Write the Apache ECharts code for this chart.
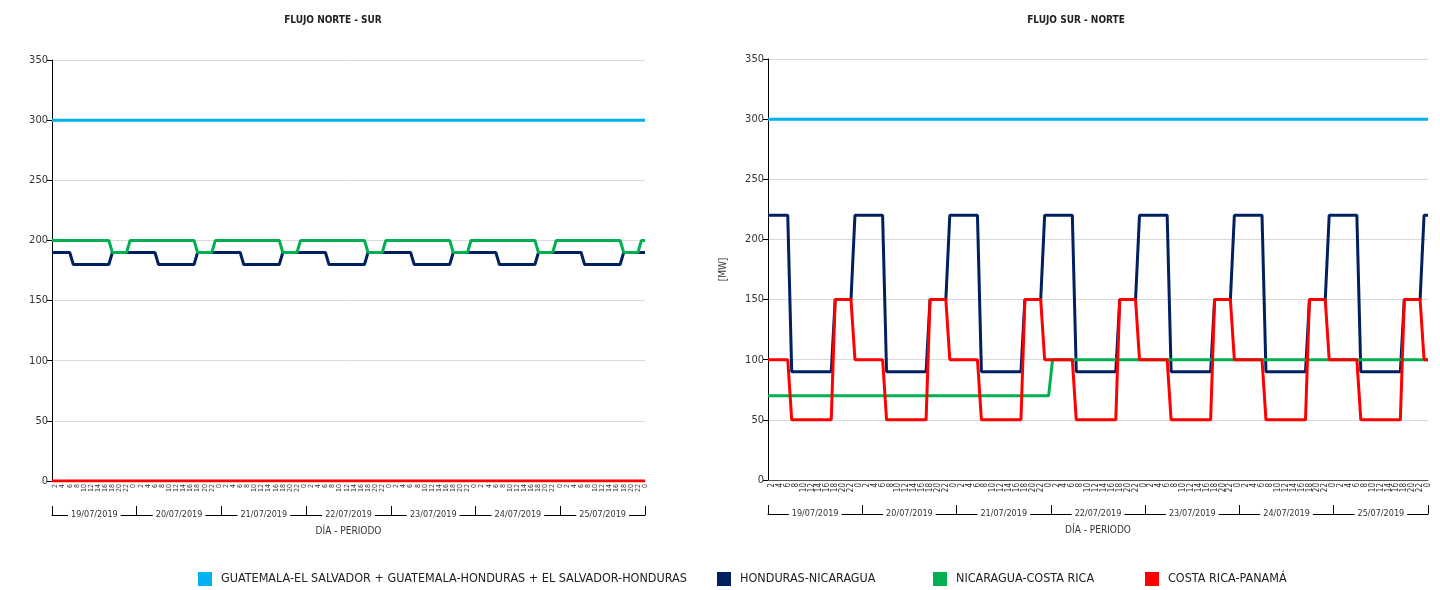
<!DOCTYPE html>
<html>
<head>
<meta charset="utf-8">
<script src="https://cdn.jsdelivr.net/npm/echarts@6/dist/echarts.min.js"></script>
<style>
html,body{margin:0;padding:0;background:#fff;}
#c{width:1440px;height:590px;}
</style>
</head>
<body>
<div id="c"></div>
<script>
// ---------- DATA ----------
const DAYS = ['19/07/2019','20/07/2019','21/07/2019','22/07/2019','23/07/2019','24/07/2019','25/07/2019'];
const HOURS = ['1','2','3','4','5','6','7','8','9','10','11','12','13','14','15','16','17','18','19','20','21','22','23','0'];
const SERIES_NAMES = [
  'GUATEMALA-EL SALVADOR + GUATEMALA-HONDURAS + EL SALVADOR-HONDURAS',
  'HONDURAS-NICARAGUA',
  'NICARAGUA-COSTA RICA',
  'COSTA RICA-PANAMÁ'
];
const Y_TICKS = [0,50,100,150,200,250,300,350];

// FLUJO NORTE - SUR
const NS_GUA = [
300,300,300,300,300,300,300,300,300,300,300,300,300,300,300,300,300,300,300,300,300,300,300,300,
300,300,300,300,300,300,300,300,300,300,300,300,300,300,300,300,300,300,300,300,300,300,300,300,
300,300,300,300,300,300,300,300,300,300,300,300,300,300,300,300,300,300,300,300,300,300,300,300,
300,300,300,300,300,300,300,300,300,300,300,300,300,300,300,300,300,300,300,300,300,300,300,300,
300,300,300,300,300,300,300,300,300,300,300,300,300,300,300,300,300,300,300,300,300,300,300,300,
300,300,300,300,300,300,300,300,300,300,300,300,300,300,300,300,300,300,300,300,300,300,300,300,
300,300,300,300,300,300,300,300,300,300,300,300,300,300,300,300,300,300,300,300,300,300,300,300];
const NS_HN = [
190,190,190,190,190,190,180,180,180,180,180,180,180,180,180,180,180,190,190,190,190,190,190,190,
190,190,190,190,190,190,180,180,180,180,180,180,180,180,180,180,180,190,190,190,190,190,190,190,
190,190,190,190,190,190,180,180,180,180,180,180,180,180,180,180,180,190,190,190,190,190,190,190,
190,190,190,190,190,190,180,180,180,180,180,180,180,180,180,180,180,190,190,190,190,190,190,190,
190,190,190,190,190,190,180,180,180,180,180,180,180,180,180,180,180,190,190,190,190,190,190,190,
190,190,190,190,190,190,180,180,180,180,180,180,180,180,180,180,180,190,190,190,190,190,190,190,
190,190,190,190,190,190,180,180,180,180,180,180,180,180,180,180,180,190,190,190,190,190,190,190];
const NS_NC = [
200,200,200,200,200,200,200,200,200,200,200,200,200,200,200,200,200,190,190,190,190,190,200,200,
200,200,200,200,200,200,200,200,200,200,200,200,200,200,200,200,200,190,190,190,190,190,200,200,
200,200,200,200,200,200,200,200,200,200,200,200,200,200,200,200,200,190,190,190,190,190,200,200,
200,200,200,200,200,200,200,200,200,200,200,200,200,200,200,200,200,190,190,190,190,190,200,200,
200,200,200,200,200,200,200,200,200,200,200,200,200,200,200,200,200,190,190,190,190,190,200,200,
200,200,200,200,200,200,200,200,200,200,200,200,200,200,200,200,200,190,190,190,190,190,200,200,
200,200,200,200,200,200,200,200,200,200,200,200,200,200,200,200,200,190,190,190,190,190,200,200];
const NS_CP = [
0,0,0,0,0,0,0,0,0,0,0,0,0,0,0,0,0,0,0,0,0,0,0,0,
0,0,0,0,0,0,0,0,0,0,0,0,0,0,0,0,0,0,0,0,0,0,0,0,
0,0,0,0,0,0,0,0,0,0,0,0,0,0,0,0,0,0,0,0,0,0,0,0,
0,0,0,0,0,0,0,0,0,0,0,0,0,0,0,0,0,0,0,0,0,0,0,0,
0,0,0,0,0,0,0,0,0,0,0,0,0,0,0,0,0,0,0,0,0,0,0,0,
0,0,0,0,0,0,0,0,0,0,0,0,0,0,0,0,0,0,0,0,0,0,0,0,
0,0,0,0,0,0,0,0,0,0,0,0,0,0,0,0,0,0,0,0,0,0,0,0];

// FLUJO SUR - NORTE
const SN_GUA = NS_GUA.slice();
const SN_HN = [
220,220,220,220,220,220,90,90,90,90,90,90,90,90,90,90,90,150,150,150,150,150,220,220,
220,220,220,220,220,220,90,90,90,90,90,90,90,90,90,90,90,150,150,150,150,150,220,220,
220,220,220,220,220,220,90,90,90,90,90,90,90,90,90,90,90,150,150,150,150,150,220,220,
220,220,220,220,220,220,90,90,90,90,90,90,90,90,90,90,90,150,150,150,150,150,220,220,
220,220,220,220,220,220,90,90,90,90,90,90,90,90,90,90,90,150,150,150,150,150,220,220,
220,220,220,220,220,220,90,90,90,90,90,90,90,90,90,90,90,150,150,150,150,150,220,220,
220,220,220,220,220,220,90,90,90,90,90,90,90,90,90,90,90,150,150,150,150,150,220,220];
const SN_NC = [
70,70,70,70,70,70,70,70,70,70,70,70,70,70,70,70,70,70,70,70,70,70,70,70,
70,70,70,70,70,70,70,70,70,70,70,70,70,70,70,70,70,70,70,70,70,70,70,70,
70,70,70,70,70,70,70,70,70,70,70,70,70,70,70,70,70,70,70,70,70,70,70,70,
100,100,100,100,100,100,100,100,100,100,100,100,100,100,100,100,100,100,100,100,100,100,100,100,
100,100,100,100,100,100,100,100,100,100,100,100,100,100,100,100,100,100,100,100,100,100,100,100,
100,100,100,100,100,100,100,100,100,100,100,100,100,100,100,100,100,100,100,100,100,100,100,100,
100,100,100,100,100,100,100,100,100,100,100,100,100,100,100,100,100,100,100,100,100,100,100,100];
const SN_CP = [
100,100,100,100,100,100,50,50,50,50,50,50,50,50,50,50,50,150,150,150,150,150,100,100,
100,100,100,100,100,100,50,50,50,50,50,50,50,50,50,50,50,150,150,150,150,150,100,100,
100,100,100,100,100,100,50,50,50,50,50,50,50,50,50,50,50,150,150,150,150,150,100,100,
100,100,100,100,100,100,50,50,50,50,50,50,50,50,50,50,50,150,150,150,150,150,100,100,
100,100,100,100,100,100,50,50,50,50,50,50,50,50,50,50,50,150,150,150,150,150,100,100,
100,100,100,100,100,100,50,50,50,50,50,50,50,50,50,50,50,150,150,150,150,150,100,100,
100,100,100,100,100,100,50,50,50,50,50,50,50,50,50,50,50,150,150,150,150,150,100,100];

// ---------- STYLE ----------
const COLORS = ['#00B0F0','#002060','#00B050','#FF0000'];
const FONT = "'Liberation Sans Narrow','DejaVu Sans Condensed','Liberation Sans',sans-serif";
const HOUR_CATS = [];
DAYS.forEach(d => HOURS.forEach(h => HOUR_CATS.push(h)));

function hourAxis(gi, fs){
  return {
    type:'category', gridIndex:gi, data:HOUR_CATS, boundaryGap:false,
    axisLine:{show:true, lineStyle:{color:'#555', width:1}},
    axisTick:{show:false},
    axisLabel:{rotate:90, fontSize:fs, color:'#333', fontFamily:FONT, margin:3,
      hideOverlap:false, interval:(i)=> i % 2 === 1},
    splitLine:{show:false}
  };
}
function dayAxis(gi){
  return {
    type:'category', gridIndex:gi, data:DAYS, position:'bottom', offset:34, boundaryGap:true,
    axisLine:{show:true, lineStyle:{color:'#000', width:1}},
    axisTick:{show:true, inside:true, length:9, lineStyle:{color:'#000'}},
    axisLabel:{fontSize:9, color:'#333', fontFamily:FONT, margin:-5, backgroundColor:'#fff', padding:[0,3]},
    name:'DÍA - PERIODO', nameLocation:'middle', nameGap:11,
    nameTextStyle:{fontSize:10, color:'#333', fontFamily:FONT},
    splitLine:{show:false}
  };
}
function valAxis(gi, withName){
  return {
    type:'value', gridIndex:gi, min:Y_TICKS[0], max:Y_TICKS[Y_TICKS.length-1], interval:50,
    axisLine:{show:true, lineStyle:{color:'#000', width:1}},
    axisTick:{show:true, length:5, lineStyle:{color:'#000'}},
    axisLabel:{fontSize:11, color:'#333', fontFamily:FONT, margin:4},
    splitLine:{show:true, lineStyle:{color:'#d9d9d9', width:1}},
    name: withName ? '[MW]' : '', nameLocation:'middle', nameGap:40,
    nameTextStyle:{fontSize:10, color:'#333', fontFamily:FONT}
  };
}
function line(name, data, xi, yi, color){
  return {
    type:'line', name, data, xAxisIndex:xi, yAxisIndex:yi, showSymbol:false, symbol:'none',
    color, lineStyle:{width:3, color}, itemStyle:{color}, animation:false
  };
}
const legendLefts = [193, 712, 928, 1140];

const option = {
  animation:false,
  title:[
    {text:'FLUJO NORTE - SUR', left:328, top:10, textAlign:'center',
     textStyle:{fontSize:10, fontWeight:'bold', color:'#222', fontFamily:FONT}},
    {text:'FLUJO SUR - NORTE', left:1071, top:10, textAlign:'center',
     textStyle:{fontSize:10, fontWeight:'bold', color:'#222', fontFamily:FONT}}
  ],
  legend: SERIES_NAMES.map((n,i)=>({
    data:[n], left:legendLefts[i], top:567, icon:'rect', itemWidth:14, itemHeight:14,
    textStyle:{fontSize:12.5, color:'#222', fontFamily:FONT, padding:[0,0,0,4]},
    selectedMode:false
  })),
  grid:[
    {left:52, top:60, width:593, height:421},
    {left:768, top:59, width:660, height:421}
  ],
  xAxis:[hourAxis(0,7), dayAxis(0), hourAxis(1,8), dayAxis(1)],
  yAxis:[valAxis(0,false), valAxis(1,true)],
  series:[
    line(SERIES_NAMES[0], NS_GUA, 0, 0, COLORS[0]),
    line(SERIES_NAMES[1], NS_HN, 0, 0, COLORS[1]),
    line(SERIES_NAMES[2], NS_NC, 0, 0, COLORS[2]),
    line(SERIES_NAMES[3], NS_CP, 0, 0, COLORS[3]),
    line(SERIES_NAMES[0], SN_GUA, 2, 1, COLORS[0]),
    line(SERIES_NAMES[1], SN_HN, 2, 1, COLORS[1]),
    line(SERIES_NAMES[2], SN_NC, 2, 1, COLORS[2]),
    line(SERIES_NAMES[3], SN_CP, 2, 1, COLORS[3])
  ]
};
const chart = echarts.init(document.getElementById('c'), null, {renderer:'canvas'});
chart.setOption(option);
</script>
</body>
</html>
